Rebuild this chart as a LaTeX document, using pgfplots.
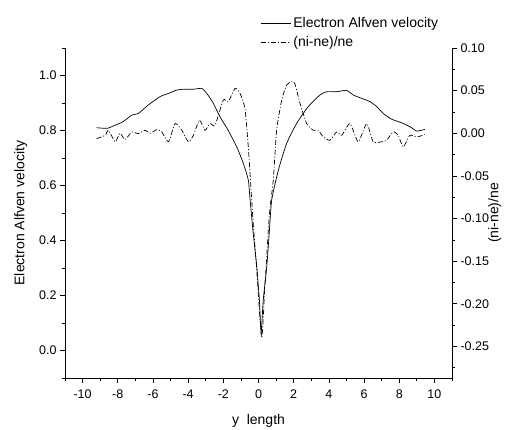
\documentclass[border=0pt]{standalone}
\usepackage{fontspec}
\setmainfont{Liberation Sans}
\usepackage{pgfplots}
\pgfplotsset{compat=1.18}

\pgfplotstableread{
x y
-9.20 0.810
-8.60 0.808
-8.20 0.818
-7.70 0.832
-7.20 0.856
-6.83 0.862
-6.26 0.893
-5.60 0.923
-5.03 0.937
-4.65 0.947
-4.27 0.950
-3.70 0.950
-3.23 0.953
-2.94 0.935
-2.57 0.899
-2.19 0.850
-1.72 0.800
-1.24 0.741
-0.86 0.680
-0.58 0.620
-0.48 0.549
-0.30 0.426
-0.10 0.305
0.05 0.184
0.15 0.065
0.27 0.184
0.47 0.305
0.61 0.426
0.75 0.547
1.13 0.656
1.60 0.753
2.17 0.826
2.83 0.887
3.49 0.929
3.87 0.941
4.44 0.941
5.00 0.946
5.39 0.929
5.86 0.917
6.34 0.905
6.72 0.887
7.09 0.862
7.57 0.841
8.14 0.828
8.60 0.814
8.99 0.798
9.20 0.800
9.46 0.804
}\alfven

\pgfplotstableread{
x y
-9.20 -0.0063
-8.72 -0.0024
-8.53 0.0035
-8.15 -0.0100
-7.87 0.0000
-7.59 -0.0075
-7.20 0.0016
-6.84 -0.0004
-6.45 0.0035
-6.16 0.0000
-5.78 0.0043
-5.50 0.0016
-5.12 -0.0100
-4.74 0.0114
-4.36 0.0035
-3.99 -0.0100
-3.70 -0.0024
-3.36 0.0153
-3.04 0.0035
-2.76 0.0114
-2.47 0.0094
-2.00 0.0390
-1.72 0.0370
-1.33 0.0526
-1.05 0.0467
-0.77 0.0290
-0.58 -0.0160
-0.39 -0.0770
-0.30 -0.1060
-0.10 -0.1600
0.18 -0.2400
0.37 -0.1770
0.62 -0.0950
0.84 -0.0550
1.03 0.0035
1.32 0.0390
1.60 0.0565
1.89 0.0610
2.07 0.0580
2.36 0.0350
2.74 0.0114
3.11 0.0035
3.40 0.0035
3.68 -0.0043
4.06 -0.0082
4.44 0.0016
4.73 -0.0024
5.20 0.0114
5.67 -0.0100
6.15 0.0114
6.52 -0.0100
7.00 -0.0100
7.28 -0.0082
7.66 0.0016
7.94 -0.0024
8.23 -0.0160
8.60 -0.0024
8.99 -0.0043
9.46 -0.0016
}\density

\newcommand{\labfont}{\fontsize{14}{16}\selectfont}

\pgfplotsset{
  orig/.style={
    scale only axis, width=387pt, height=330pt,
    xmin=-11, xmax=11,
    axis line style={-, line width=0.8pt},
    tick align=outside,
    major tick length=5pt, minor tick length=3pt,
    tick style={black, line width=0.7pt},
    /pgf/number format/assume math mode=true,
    tick label style={font=\fontsize{12.5}{14}\selectfont},
  },
}

\begin{document}
\begin{tikzpicture}
\useasboundingbox (-65pt,-51pt) rectangle (440pt,378pt);
\begin{axis}[orig,
  ymin=-0.1, ymax=1.1,
  axis x line*=bottom, axis y line*=left,
  xtick={-10,-8,...,10}, minor xtick={-11,-9,...,11},
  ytick={0,0.2,0.4,0.6,0.8,1.0},
  minor ytick={-0.1,0.1,0.3,0.5,0.7,0.9,1.1},
  xticklabel style={yshift=-3pt},
  yticklabel style={/pgf/number format/fixed, /pgf/number format/fixed zerofill,
    /pgf/number format/precision=1},
  xlabel={y~~length},
  xlabel style={at={(axis description cs:0.5,0)}, anchor=north, inner sep=0pt,
    yshift=-36pt, font=\labfont},
  ylabel={Electron Alfven velocity},
  ylabel style={at={(axis description cs:-0.132,0.5)}, anchor=north, inner sep=0pt,
    font=\labfont},
]
\addplot[black, line width=0.7pt, smooth, tension=0.35] table {\alfven};
\end{axis}

\begin{axis}[orig,
  ymin=-0.287, ymax=0.10,
  hide x axis, axis y line*=right,
  ytick={-0.25,-0.2,-0.15,-0.1,-0.05,0,0.05,0.1},
  minor ytick={-0.275,-0.225,-0.175,-0.125,-0.075,-0.025,0.025,0.075},
  yticklabel style={/pgf/number format/fixed, /pgf/number format/fixed zerofill,
    /pgf/number format/precision=2},
  ylabel={(ni-ne)/ne},
  ylabel style={at={(axis description cs:1.093,0.5)}, anchor=north, inner sep=0pt,
    font=\labfont},
  legend image code/.code={\draw[#1] (0pt,0pt) -- (30pt,0pt);},
  legend cell align=left,
  legend style={draw=none, fill=none, at={(0.505,1.0)}, anchor=south west,
    yshift=-2pt, font=\labfont, row sep=3pt, inner sep=0pt},
]
\addlegendimage{black, line width=0.7pt}
\addlegendentry{Electron Alfven velocity}
\addplot[black, line width=0.7pt, smooth, tension=0.35,
  dash pattern=on 5pt off 2pt on 1pt off 2pt] table {\density};
\addlegendentry{(ni-ne)/ne}
\end{axis}
\end{tikzpicture}
\end{document}
